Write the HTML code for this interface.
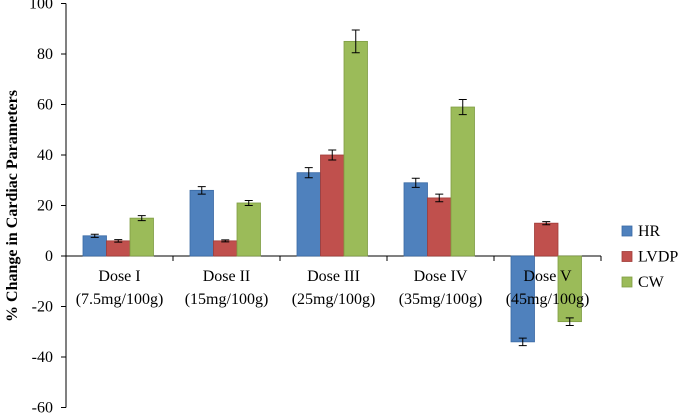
<!DOCTYPE html>
<html><head><meta charset="utf-8"><style>
body{margin:0;background:#fff;}
svg{font-family:"Liberation Serif",serif;}
</style></head><body>
<svg width="685" height="415">
<g id="g"></g>
</svg>
<script>
const categories=["Dose I","Dose II","Dose III","Dose IV","Dose V"];
const subLabels=["(7.5mg/100g)","(15mg/100g)","(25mg/100g)","(35mg/100g)","(45mg/100g)"];
const seriesNames=["HR","LVDP","CW"];
const hrValues=[8,26,33,29,-34];
const lvdpValues=[6,6,40,23,13];
const cwValues=[15,21,85,59,-26];
const hrErr=[0.6,1.5,2,1.8,1.5];
const lvdpErr=[0.5,0.4,2,1.5,0.6];
const cwErr=[1,1,4.5,3,1.5];
const yTicks=[-60,-40,-20,0,20,40,60,80,100];
const colors=["#4f81bd","#c0504d","#9bbb59"];
const strokes=["#3a6aa5","#a03c39","#7f9d43"];
const NS="http://www.w3.org/2000/svg";
const g=document.getElementById('g');
const x0=66,gw=107,y=v=>256-v*2.525;
function mk(t,a,txt){const e=document.createElementNS(NS,t);for(const k in a)e.setAttribute(k,a[k]);if(txt!==undefined)e.textContent=txt;g.appendChild(e);return e;}
let e=mk('line',{x1:x0,y1:y(100),x2:x0,y2:y(-60),stroke:'#000'});

yTicks.forEach(t=>{
 let l=mk('line',{x1:x0-5,x2:x0,y1:y(t),y2:y(t),stroke:'#000'});
 
 let tx=mk('text',{x:x0-13,y:y(t)+5,'text-anchor':'end','font-size':16},String(t));
 
});
e=mk('line',{x1:x0,x2:x0+gw*5,y1:y(0),y2:y(0),stroke:'#000'});

for(let i=0;i<=5;i++){let l=mk('line',{x1:x0+gw*i,x2:x0+gw*i,y1:y(0),y2:y(0)+5,stroke:'#000'});
 }
const vals=[hrValues,lvdpValues,cwValues],errs=[hrErr,lvdpErr,cwErr];
categories.forEach((c,i)=>{
 vals.forEach((s,j)=>{
  const v=s[i],bx=x0+gw*i+17+j*23.5;
  let r=mk('rect',{x:bx,y:Math.min(y(v),y(0)),width:23.5,height:Math.abs(y(v)-y(0)),fill:colors[j],stroke:strokes[j],'stroke-width':0.8});
  
  const er=errs[j][i],cx=bx+11.75,top=v>=0?v+er:v-er,bot=v>=0?v-er:v+er;
  let eb=mk('path',{d:`M${cx-4},${y(top)}H${cx+4}M${cx},${y(top)}V${y(bot)}M${cx-4},${y(bot)}H${cx+4}`,stroke:'#000',fill:'none','stroke-width':1});
  
 });
 const cx=x0+gw*i+gw/2;
 let t1=mk('text',{x:cx,y:281,'text-anchor':'middle','font-size':16},c);
 
 let t2=mk('text',{x:cx,y:304,'text-anchor':'middle','font-size':16},subLabels[i]);
 
});
seriesNames.forEach((n,j)=>{
 const ly=226+j*25.5;
 let r=mk('rect',{x:622,y:ly,width:10,height:10,fill:colors[j],stroke:strokes[j],'stroke-width':0.8});
 
 let t=mk('text',{x:638,y:ly+10,'font-size':16},n);
 
});
let yt=mk('text',{x:0,y:0,'font-size':16,'font-weight':'bold','text-anchor':'middle',transform:'translate(17,206) rotate(-90)'},'% Change in Cardiac Parameters');

</script>
</body></html>
